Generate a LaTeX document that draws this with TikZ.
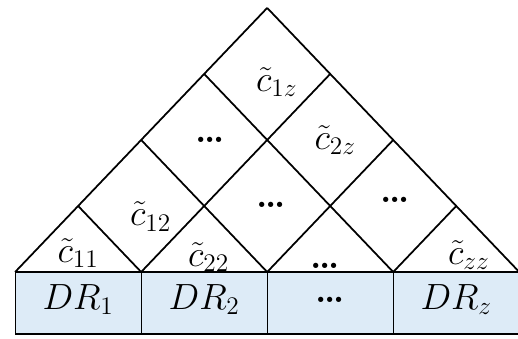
\documentclass[tikz,border=0pt]{standalone}
\usepackage{amsmath}
\definecolor{cellblue}{RGB}{221,235,247}
\begin{document}
\begin{tikzpicture}[x=1.26cm,y=1.32cm,
  lbl/.style={font=\huge,inner sep=1pt},
  grid line/.style={line width=1pt}]
\useasboundingbox (-0.24,-1.0) rectangle (7.98,4.12);
% row of data regions
\filldraw[fill=cellblue,line width=0.7pt] (0,0) rectangle (8,-0.94);
\foreach \x in {2,4,6} \draw[line width=0.7pt] (\x,0) -- (\x,-0.94);

% lattice of the triangle
\foreach \i in {0,...,3} \draw[grid line] (2*\i,0) -- (4+\i,4-\i);
\foreach \i in {1,...,4} \draw[grid line] (2*\i,0) -- (\i,\i);

\node[lbl] (c11) at (1.0,0.29) {$\tilde{c}_{11}$};
\node[lbl] (c12) at (2.15,0.84) {$\tilde{c}_{12}$};
\node[lbl] (c22) at (3.07,0.23) {$\tilde{c}_{22}$};
\node[lbl] (c1z) at (4.15,2.88) {$\tilde{c}_{1z}$};
\node[lbl] (c2z) at (5.08,2.0) {$\tilde{c}_{2z}$};
\node[lbl] (czz) at (7.2,0.26) {$\tilde{c}_{zz}$};

\node[lbl] (d1) at (3.1,2.0) {\textbf{\dots}};
\node[lbl] (d2) at (4.07,1.02) {\textbf{\dots}};
\node[lbl] (d3) at (6.03,1.09) {\textbf{\dots}};
\node[lbl] (d4) at (4.92,0.1) {\textbf{\dots}};

\node[lbl] (dr1) at (1,-0.42) {$DR_1$};
\node[lbl] (dr2) at (3,-0.42) {$DR_2$};
\node[lbl] (drd) at (5,-0.42) {\textbf{\dots}};
\node[lbl] (drz) at (7,-0.42) {$DR_z$};
\end{tikzpicture}
\end{document}
